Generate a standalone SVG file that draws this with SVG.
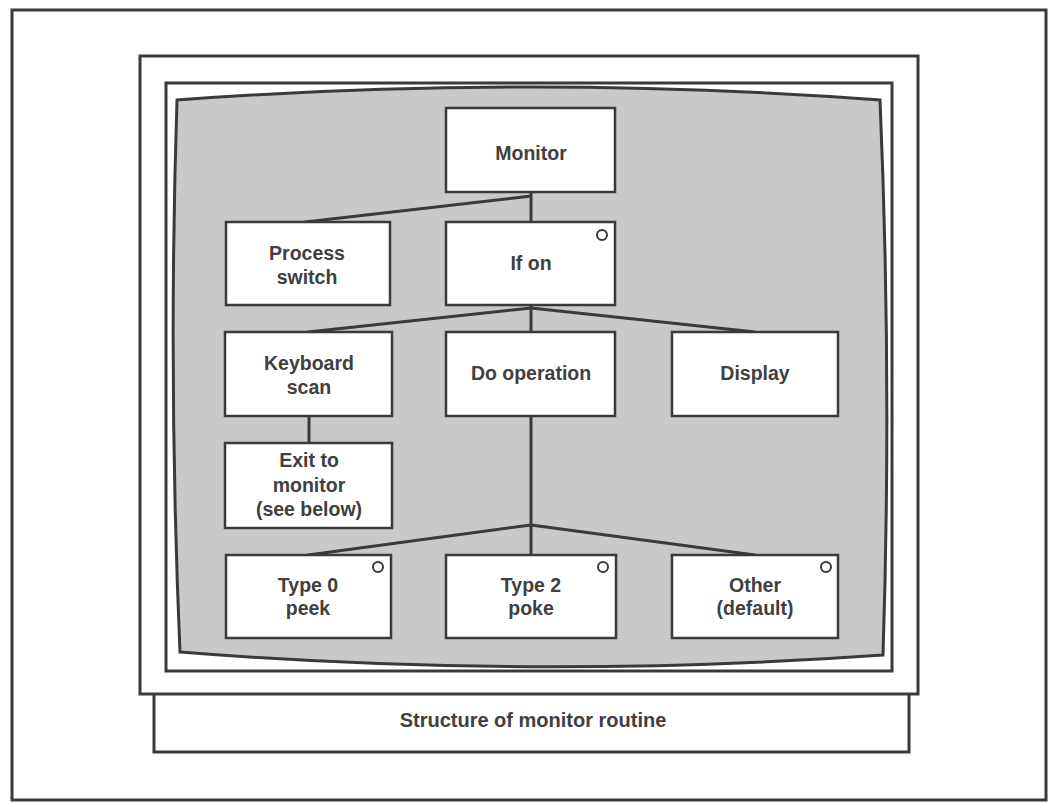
<svg xmlns="http://www.w3.org/2000/svg" width="1058" height="803" viewBox="0 0 1058 803">
<style>
.frame{fill:#fff;stroke:#3a3a3a;stroke-width:3}
.box{fill:#fff;stroke:#3a3a3a;stroke-width:2.5}
.lbl{font-family:"Liberation Sans",Arial,sans-serif;font-weight:bold;font-size:19.5px;fill:#404040;text-anchor:middle}
.cap{font-family:"Liberation Sans",Arial,sans-serif;font-weight:bold;font-size:20px;fill:#404040;text-anchor:middle}
.conn{stroke:#3a3a3a;stroke-width:3;fill:none;stroke-linecap:round}
.dot{fill:#fff;stroke:#3a3a3a;stroke-width:2}
</style>
<rect x="0" y="0" width="1058" height="803" fill="#fff"/>
<rect class="frame" x="12" y="10" width="1034" height="790"/>
<rect class="frame" x="154" y="690" width="755" height="62"/>
<rect class="frame" x="140" y="56" width="778" height="638"/>
<rect class="frame" x="166" y="83" width="726" height="588"/>
<path d="M177,100 Q530,74 880,100 Q892,378 883,655 Q530,680 180,652 Q168,376 177,100 Z" fill="#c9c9c9" stroke="#3a3a3a" stroke-width="3"/>
<text class="cap" x="533" y="727">Structure of monitor routine</text>
<g id="connectors">
<path class="conn" d="M531,192 V222 M531,196 L305,222"/>
<path class="conn" d="M531,305 V332 M531,308 L308,332 M531,308 L755,332"/>
<path class="conn" d="M309,416 V443"/>
<path class="conn" d="M531,416 V555 M531,525 L308,555 M531,525 L755,555"/>
</g>
<g id="monitor"><rect class="box" x="446" y="108" width="169" height="84"/><text class="lbl" x="531" y="160">Monitor</text></g>
<g id="process-switch"><rect class="box" x="226" y="222" width="164" height="83"/><text class="lbl" x="307" y="260">Process</text><text class="lbl" x="307" y="284">switch</text></g>
<g id="if-on"><rect class="box" x="446" y="222" width="169" height="83"/><text class="lbl" x="531" y="270">If on</text><circle class="dot" cx="602" cy="235" r="5"/></g>
<g id="keyboard-scan"><rect class="box" x="225" y="332" width="167" height="84"/><text class="lbl" x="309" y="370">Keyboard</text><text class="lbl" x="309" y="394">scan</text></g>
<g id="do-operation"><rect class="box" x="446" y="332" width="169" height="84"/><text class="lbl" x="531" y="380">Do operation</text></g>
<g id="display"><rect class="box" x="672" y="332" width="166" height="84"/><text class="lbl" x="755" y="380">Display</text></g>
<g id="exit-to-monitor"><rect class="box" x="225" y="443" width="167" height="85"/><text class="lbl" x="309" y="467">Exit to</text><text class="lbl" x="309" y="492">monitor</text><text class="lbl" x="309" y="516">(see below)</text></g>
<g id="type0-peek"><rect class="box" x="226" y="555" width="165" height="83"/><text class="lbl" x="308" y="592">Type 0</text><text class="lbl" x="308" y="615">peek</text><circle class="dot" cx="378" cy="567" r="5"/></g>
<g id="type2-poke"><rect class="box" x="446" y="555" width="170" height="83"/><text class="lbl" x="531" y="592">Type 2</text><text class="lbl" x="531" y="615">poke</text><circle class="dot" cx="603" cy="567" r="5"/></g>
<g id="other-default"><rect class="box" x="672" y="555" width="166" height="83"/><text class="lbl" x="755" y="592">Other</text><text class="lbl" x="755" y="615">(default)</text><circle class="dot" cx="826" cy="567" r="5"/></g>
</svg>
